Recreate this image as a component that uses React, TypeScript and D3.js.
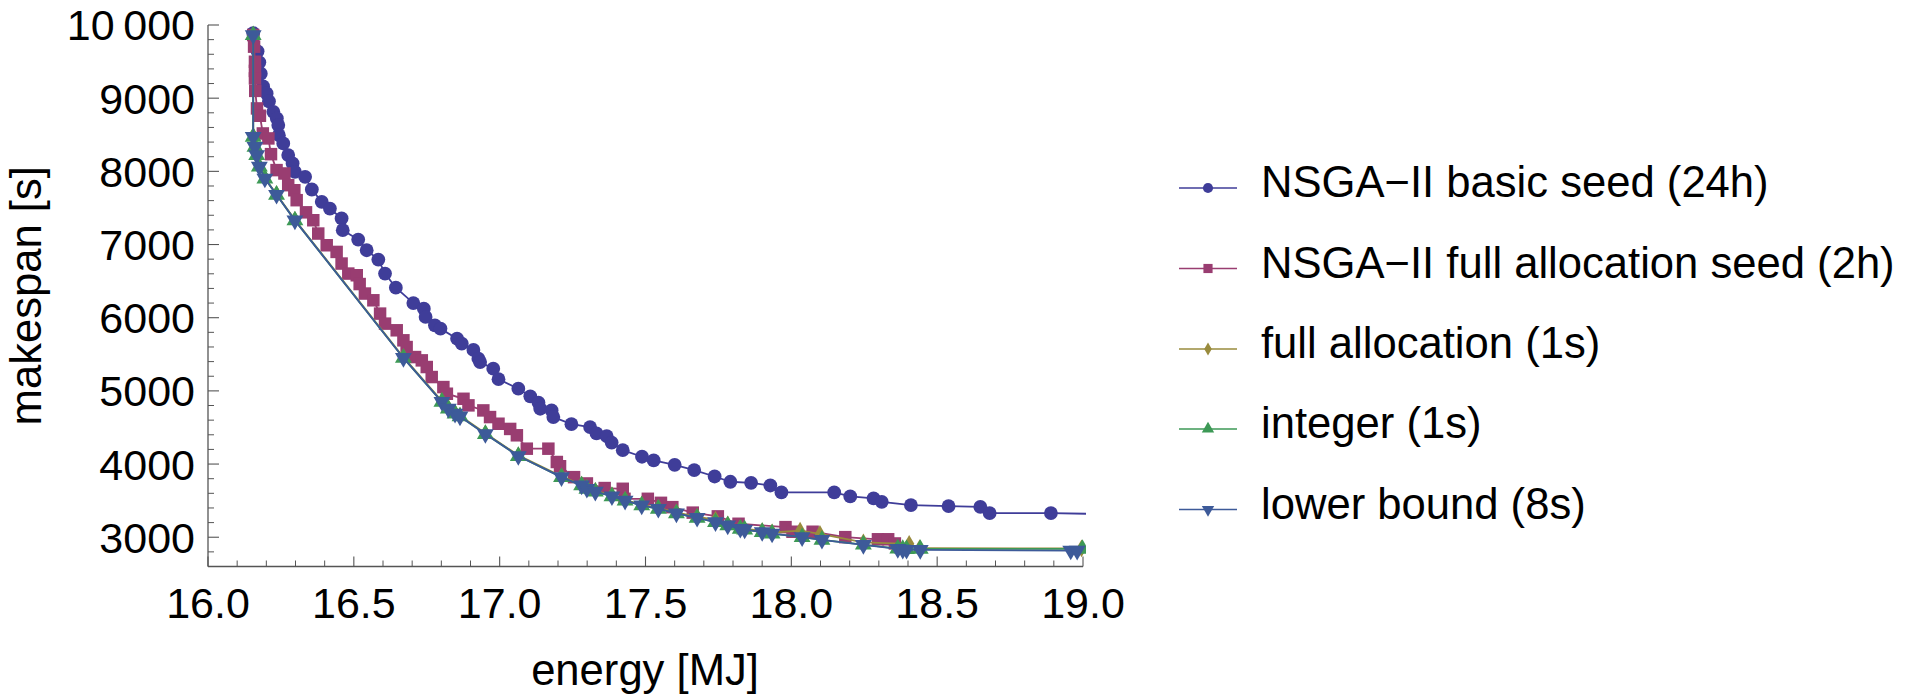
import React from 'react';
import * as d3 from 'd3';

// ---------- data (energy [MJ], makespan [s]) ----------
const seriesNames = [
  'NSGA\u2212II basic seed (24h)',
  'NSGA\u2212II full allocation seed (2h)',
  'full allocation (1s)',
  'integer (1s)',
  'lower bound (8s)',
];
const seriesColors = ['#3f3d99', '#993d71', '#998b3d', '#3d9956', '#3d5a99'];
const seriesMarkers = ['circle', 'square', 'diamond', 'triangle', 'triangleDown'];

const xTicks = [16, 16.5, 17, 17.5, 18, 18.5, 19];
const xTickLabels = ['16.0', '16.5', '17.0', '17.5', '18.0', '18.5', '19.0'];
const yTicks = [3000, 4000, 5000, 6000, 7000, 8000, 9000, 10000];
const yTickLabels = ['3000', '4000', '5000', '6000', '7000', '8000', '9000', '10\u2009000'];

const basicSeed: [number, number][] = [
  [16.155, 9890], [16.17, 9640], [16.176, 9490], [16.181, 9335], [16.189, 9160],
  [16.201, 9065], [16.209, 8955], [16.224, 8814], [16.236, 8723], [16.241, 8632],
  [16.243, 8495], [16.258, 8382], [16.275, 8222], [16.29, 8108], [16.298, 7993],
  [16.333, 7925], [16.356, 7752], [16.39, 7583], [16.418, 7492], [16.458, 7356],
  [16.462, 7196], [16.515, 7068], [16.544, 6922], [16.584, 6795], [16.607, 6603],
  [16.644, 6410], [16.704, 6200], [16.74, 6124], [16.746, 6010], [16.778, 5896],
  [16.797, 5851], [16.854, 5714], [16.87, 5646], [16.91, 5560], [16.927, 5440],
  [16.933, 5394], [16.978, 5304], [16.996, 5160], [17.064, 5030], [17.105, 4925],
  [17.133, 4840], [17.139, 4756], [17.178, 4733], [17.184, 4642], [17.246, 4545],
  [17.31, 4505], [17.332, 4418], [17.367, 4380], [17.384, 4293], [17.422, 4190],
  [17.488, 4100], [17.528, 4049], [17.6, 3990], [17.667, 3918], [17.737, 3830],
  [17.791, 3758], [17.862, 3744], [17.928, 3707], [17.966, 3612], [18.147, 3612],
  [18.202, 3557], [18.282, 3530], [18.31, 3484], [18.41, 3440], [18.539, 3425],
  [18.648, 3416], [18.68, 3330], [18.89, 3330], [19.3, 3300],
];

const fullAllocSeed: [number, number][] = [
  [16.155, 9863], [16.158, 9704], [16.161, 9498], [16.161, 9373], [16.161, 9270],
  [16.162, 9100], [16.168, 8860], [16.178, 8760], [16.188, 8518], [16.207, 8450],
  [16.216, 8235], [16.235, 8017], [16.262, 7971], [16.275, 7811], [16.296, 7742],
  [16.304, 7606], [16.336, 7440], [16.361, 7332], [16.378, 7150], [16.407, 6990],
  [16.441, 6899], [16.458, 6740], [16.481, 6603], [16.51, 6580], [16.52, 6460],
  [16.538, 6330], [16.567, 6238], [16.59, 6056], [16.607, 5919], [16.647, 5828],
  [16.67, 5691], [16.681, 5599], [16.71, 5462], [16.733, 5417], [16.75, 5326],
  [16.767, 5189], [16.807, 5052], [16.819, 4961], [16.876, 4892], [16.893, 4802],
  [16.944, 4733], [16.967, 4642], [16.996, 4551], [17.036, 4480], [17.059, 4393],
  [17.093, 4210], [17.167, 4210], [17.196, 4028], [17.207, 3970], [17.255, 3821],
  [17.299, 3735], [17.36, 3672], [17.422, 3662], [17.428, 3525], [17.508, 3525],
  [17.553, 3470], [17.592, 3411], [17.662, 3336], [17.748, 3285], [17.819, 3184],
  [17.98, 3138], [18.004, 3075], [18.073, 3075], [18.185, 3001], [18.297, 2972],
  [18.332, 2972], [18.355, 2915],
];

const fullAllocation: [number, number][] = [
  [16.155, 9860], [16.155, 8480], [16.161, 8345], [16.167, 8230], [16.176, 8070],
  [16.195, 7910], [16.235, 7688], [16.298, 7338], [16.67, 5460], [16.802, 4860],
  [16.824, 4766], [16.847, 4698], [16.864, 4660], [16.951, 4420], [17.064, 4120],
  [17.212, 3832], [17.281, 3718], [17.299, 3672], [17.328, 3632], [17.385, 3572],
  [17.43, 3512], [17.487, 3446], [17.544, 3400], [17.606, 3338], [17.677, 3278],
  [17.74, 3240], [17.782, 3175], [17.825, 3125], [17.9, 3085], [17.934, 3065],
  [18.03, 3090], [18.098, 3045], [18.247, 2930], [18.404, 2910], [18.44, 2850],
  [18.995, 2848],
];

const integerSol: [number, number][] = [
  [16.155, 9860], [16.155, 8472], [16.161, 8336], [16.167, 8222], [16.176, 8063],
  [16.195, 7902], [16.235, 7680], [16.298, 7330], [16.67, 5450], [16.802, 4850],
  [16.824, 4756], [16.847, 4688], [16.864, 4651], [16.951, 4410], [17.064, 4110],
  [17.212, 3821], [17.281, 3707], [17.299, 3662], [17.328, 3622], [17.385, 3560],
  [17.43, 3500], [17.487, 3434], [17.544, 3389], [17.606, 3325], [17.677, 3265],
  [17.74, 3206], [17.782, 3161], [17.825, 3115], [17.84, 3105], [17.9, 3070],
  [17.934, 3050], [18.037, 3001], [18.105, 2965], [18.247, 2900], [18.365, 2845],
  [18.382, 2838], [18.395, 2836], [18.442, 2840], [18.998, 2840],
];

const lowerBound: [number, number][] = [
  [16.155, 9860], [16.155, 8472], [16.161, 8336], [16.167, 8222], [16.176, 8063],
  [16.195, 7902], [16.235, 7680], [16.298, 7330], [16.67, 5450], [16.802, 4850],
  [16.824, 4756], [16.847, 4688], [16.864, 4651], [16.951, 4410], [17.064, 4110],
  [17.212, 3821], [17.281, 3707], [17.299, 3662], [17.328, 3622], [17.385, 3560],
  [17.43, 3500], [17.487, 3434], [17.544, 3389], [17.606, 3325], [17.677, 3265],
  [17.74, 3206], [17.782, 3161], [17.825, 3115], [17.84, 3105], [17.9, 3070],
  [17.934, 3050], [18.037, 3001], [18.105, 2965], [18.247, 2895], [18.365, 2840],
  [18.382, 2830], [18.395, 2828], [18.442, 2826], [18.958, 2818], [18.98, 2816],
];

const allSeries = [basicSeed, fullAllocSeed, fullAllocation, integerSol, lowerBound];

// ---------- layout ----------
const W = 1907;
const H = 697;
const FONT = '"Liberation Sans", Arial, Helvetica, sans-serif';

function markerPath(kind: string, size: number): { d: string; rot: number } {
  switch (kind) {
    case 'circle':
      return { d: d3.symbol(d3.symbolCircle, size * 1.15)() as string, rot: 0 };
    case 'square':
      return { d: d3.symbol(d3.symbolSquare, size * 1.2)() as string, rot: 0 };
    case 'diamond':
      return { d: d3.symbol(d3.symbolDiamond, size * 0.7)() as string, rot: 0 };
    case 'triangle':
      return { d: d3.symbol(d3.symbolTriangle, size * 0.95)() as string, rot: 0 };
    default:
      return { d: d3.symbol(d3.symbolTriangle, size * 0.95)() as string, rot: 180 };
  }
}

export default function App() {
  React.useEffect(() => {
    document.body.style.margin = '0';
  }, []);

  const x = d3.scaleLinear().domain([16, 19]).range([208, 1083]);
  const y = d3.scaleLinear().domain([2600, 10000]).range([566.5, 25]);

  const line = d3
    .line<[number, number]>()
    .x((d) => x(d[0]))
    .y((d) => y(d[1]));

  const xMinor = d3.range(16, 19.0001, 0.1).filter((v) => Math.abs(v * 2 - Math.round(v * 2)) > 1e-6);
  const yMinor = d3.range(2600, 10000.1, 200).filter((v) => v % 1000 !== 0);

  const axisColor = '#555';
  const x0 = x(16);
  const y0 = y(2600);

  const legendY = [188, 268.5, 349, 429, 509.5];

  return (
    <svg
      width={W}
      height={H}
      viewBox={`0 0 ${W} ${H}`}
      style={{ display: 'block', position: 'absolute', left: 0, top: 0, background: '#fff' }}
      fontFamily={FONT}
    >
      <defs>
        <clipPath id="plotclip">
          <rect x={150} y={0} width={1086 - 150} height={600} />
        </clipPath>
      </defs>

      {/* axes */}
      <line x1={x0} x2={x0} y1={y(10000)} y2={y0} stroke={axisColor} strokeWidth={1.3} />
      <line x1={x0} x2={x(19)} y1={y0} y2={y0} stroke={axisColor} strokeWidth={1.3} />
      {xTicks.map((v) => (
        <line key={'xt' + v} x1={x(v)} x2={x(v)} y1={y0} y2={y0 - 10} stroke={axisColor} strokeWidth={1.1} />
      ))}
      {xMinor.map((v) => (
        <line key={'xm' + v} x1={x(v)} x2={x(v)} y1={y0} y2={y0 - 6} stroke={axisColor} strokeWidth={1} />
      ))}
      {yTicks.map((v) => (
        <line key={'yt' + v} x1={x0} x2={x0 + 11} y1={y(v)} y2={y(v)} stroke={axisColor} strokeWidth={1.1} />
      ))}
      {yMinor.map((v) => (
        <line key={'ym' + v} x1={x0} x2={x0 + 6} y1={y(v)} y2={y(v)} stroke={axisColor} strokeWidth={1} />
      ))}

      {/* tick labels */}
      {xTicks.map((v, i) => (
        <text key={'xl' + v} x={x(v)} y={618} textAnchor="middle" fontSize={43} fill="#000">
          {xTickLabels[i]}
        </text>
      ))}
      {yTicks.map((v, i) => (
        <text key={'yl' + v} x={195} y={y(v)} dy="0.36em" textAnchor="end" fontSize={43} fill="#000">
          {yTickLabels[i]}
        </text>
      ))}

      {/* axis labels */}
      <text x={645} y={685} textAnchor="middle" fontSize={43.6} fill="#000">
        energy [MJ]
      </text>
      <text
        transform={`translate(41, ${(y(10000) + y0) / 2}) rotate(-90)`}
        textAnchor="middle"
        fontSize={43.6}
        fill="#000"
      >
        makespan [s]
      </text>

      {/* series */}
      <g clipPath="url(#plotclip)">
        {allSeries.map((s, i) => (
          <g key={'s' + i}>
            <path d={line(s) as string} fill="none" stroke={seriesColors[i]} strokeWidth={1.8} />
            {s.map((p, j) => {
              const m = markerPath(seriesMarkers[i], 130);
              return (
                <path
                  key={j}
                  d={m.d}
                  transform={`translate(${x(p[0])},${y(p[1])}) rotate(${m.rot})`}
                  fill={seriesColors[i]}
                />
              );
            })}
          </g>
        ))}
      </g>

      {/* legend */}
      {seriesNames.map((name, i) => {
        const ly = legendY[i];
        const m = markerPath(seriesMarkers[i], 70);
        return (
          <g key={'lg' + i}>
            <line x1={1179} x2={1237} y1={ly} y2={ly} stroke={seriesColors[i]} strokeWidth={1.6} />
            <path d={m.d} transform={`translate(1208,${ly}) rotate(${m.rot})`} fill={seriesColors[i]} />
            <text x={1261} y={ly + 9} fontSize={43.6} fill="#000">
              {name}
            </text>
          </g>
        );
      })}
    </svg>
  );
}
